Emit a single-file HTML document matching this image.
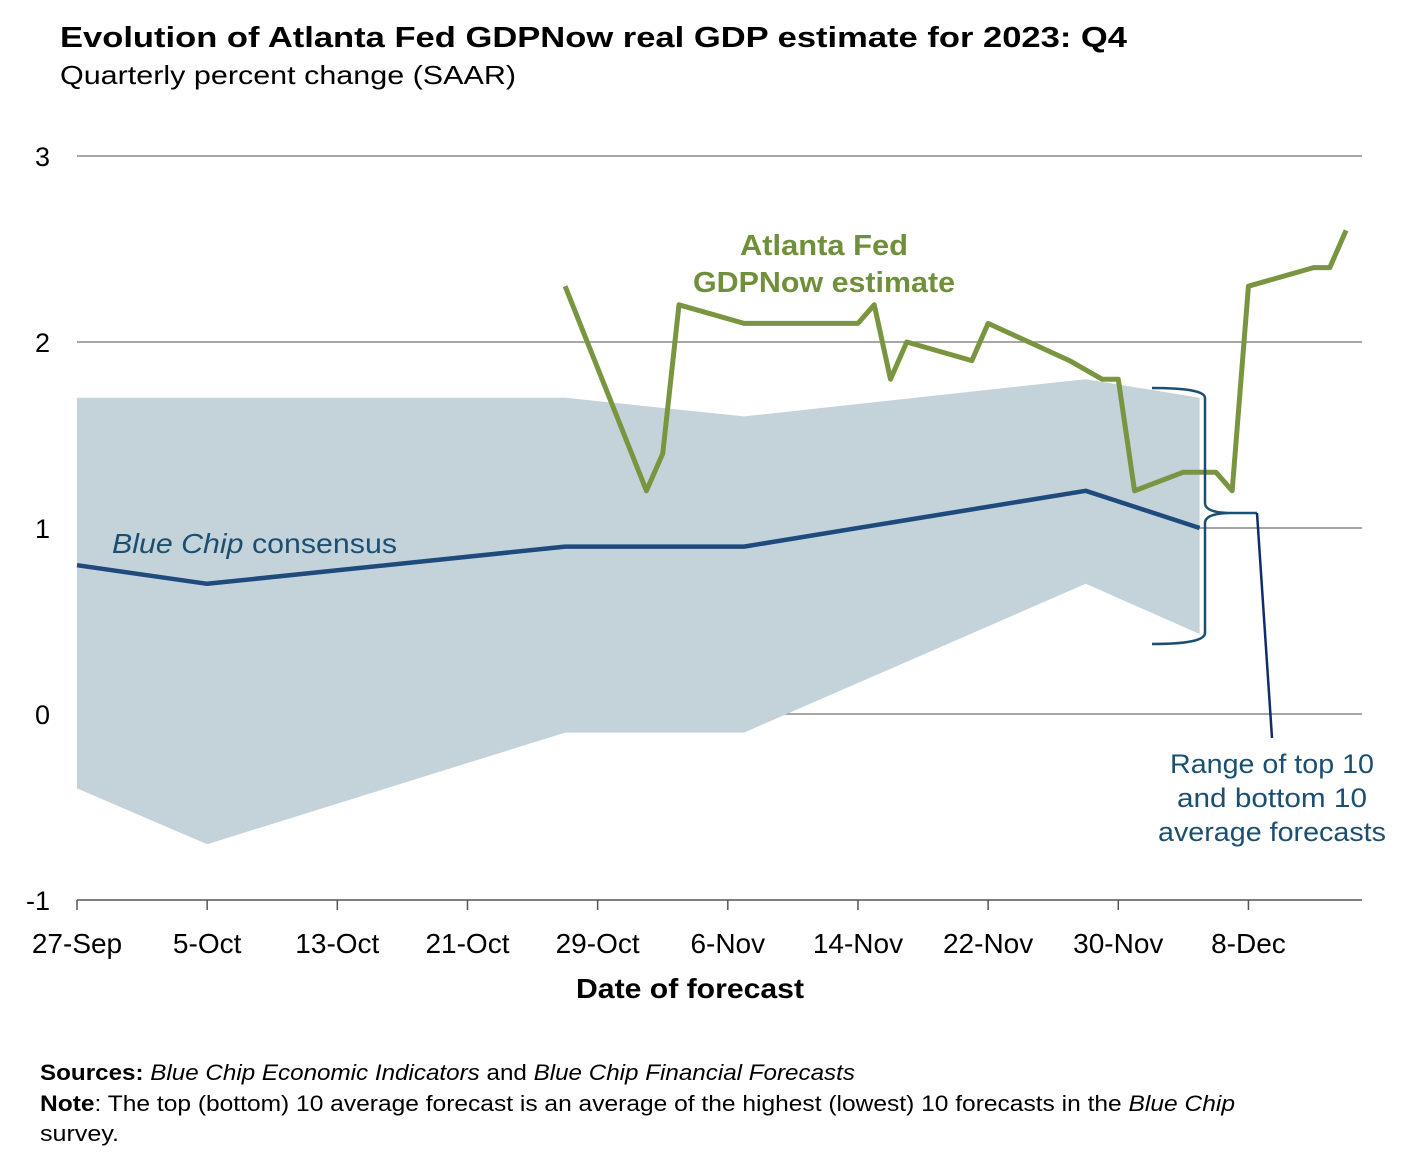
<!DOCTYPE html>
<html><head><meta charset="utf-8"><style>
html,body{margin:0;padding:0;background:#fff;}
svg{display:block;font-family:"Liberation Sans",Arial,sans-serif;}
</style></head><body>
<svg id="chart" width="1420" height="1156" viewBox="0 0 1420 1156" xmlns="http://www.w3.org/2000/svg">
<text x="60" y="47" font-size="29" font-weight="bold" fill="#000" textLength="1067" lengthAdjust="spacingAndGlyphs">Evolution of Atlanta Fed GDPNow real GDP estimate for 2023: Q4</text>
<text x="60" y="84" font-size="26" fill="#000" textLength="456" lengthAdjust="spacingAndGlyphs">Quarterly percent change (SAAR)</text>
<g id="grid"></g>
<g id="band"></g>
<g id="series"></g>
<g id="axes"></g>
<g>
<path d="M1152,388 Q1205,388 1205,398 L1205,503 Q1205,513 1232,513 L1257,513 M1232,513 Q1205,513 1205,523 L1205,633 Q1205,644 1152,644" fill="none" stroke="#1b4f72" stroke-width="2.5"/>
<line x1="1257" y1="513" x2="1272" y2="738" stroke="#0f2d6b" stroke-width="2.5"/>
<text font-size="27" fill="#1b4f72" text-anchor="middle"><tspan x="1272" y="773" textLength="204" lengthAdjust="spacingAndGlyphs">Range of top 10</tspan><tspan x="1272" y="807" textLength="190" lengthAdjust="spacingAndGlyphs">and bottom 10</tspan><tspan x="1272" y="841" textLength="228" lengthAdjust="spacingAndGlyphs">average forecasts</tspan></text>
</g>
<text font-size="29" font-weight="bold" fill="#6f8f3a" text-anchor="middle"><tspan x="824" y="255" textLength="168" lengthAdjust="spacingAndGlyphs">Atlanta Fed</tspan><tspan x="824" y="292" textLength="262" lengthAdjust="spacingAndGlyphs">GDPNow estimate</tspan></text>
<text x="112" y="553" font-size="28" fill="#1b4f72" textLength="285" lengthAdjust="spacingAndGlyphs"><tspan font-style="italic">Blue Chip</tspan> consensus</text>
<text x="690" y="998" font-size="28" font-weight="bold" text-anchor="middle" textLength="228" lengthAdjust="spacingAndGlyphs">Date of forecast</text>
<text x="40" y="1080" font-size="22" textLength="815" lengthAdjust="spacingAndGlyphs"><tspan font-weight="bold">Sources:</tspan> <tspan font-style="italic">Blue Chip Economic Indicators</tspan> and <tspan font-style="italic">Blue Chip Financial Forecasts</tspan></text>
<text x="40" y="1111" font-size="22" textLength="1195" lengthAdjust="spacingAndGlyphs"><tspan font-weight="bold">Note</tspan>: The top (bottom) 10 average forecast is an average of the highest (lowest) 10 forecasts in the <tspan font-style="italic">Blue Chip</tspan></text>
<text x="40" y="1141" font-size="22" textLength="79" lengthAdjust="spacingAndGlyphs">survey.</text>
</svg>
<script>
const xTickLabels=["27-Sep","5-Oct","13-Oct","21-Oct","29-Oct","6-Nov","14-Nov","22-Nov","30-Nov","8-Dec"];
const yTicks=[3,2,1,0,-1];
const bandDays=[0,8,30,41,62,69];
const bandTop=[1.7,1.7,1.7,1.6,1.8,1.7];
const bandBottom=[-0.4,-0.7,-0.1,-0.1,0.7,0.43];
const blueChipDays=[0,8,30,41,62,69];
const blueChip=[0.8,0.7,0.9,0.9,1.2,1.0];
const gdpDays=[30,35,36,37,41,48,49,50,51,55,56,61,63,64,65,68,70,71,72,76,77,78];
const gdpNow=[2.3,1.2,1.4,2.2,2.1,2.1,2.2,1.8,2.0,1.9,2.1,1.9,1.8,1.8,1.2,1.3,1.3,1.2,2.3,2.4,2.4,2.6];

const NS="http://www.w3.org/2000/svg";
const X=d=>77+d*16.27;
const Y=v=>714-v*186;
function mk(tag,attrs,parent){const e=document.createElementNS(NS,tag);for(const k in attrs)e.setAttribute(k,attrs[k]);parent.appendChild(e);return e;}
const grid=document.getElementById('grid'),band=document.getElementById('band'),series=document.getElementById('series'),axes=document.getElementById('axes');
yTicks.forEach(v=>{
  if(v>-1){const l=mk('line',{x1:77,x2:1362,y1:Y(v),y2:Y(v),stroke:'#8a8a8a','stroke-width':1.5},grid);
  
  }
  const t=mk('text',{x:50,y:Y(v)+10,'font-size':27,'text-anchor':'end'},axes);
  t.textContent=v;
  
  
});
let pts=bandDays.map((d,i)=>X(d)+','+Y(bandTop[i])).concat(bandDays.map((d,i)=>X(d)+','+Y(bandBottom[i])).reverse());
const poly=mk('polygon',{points:pts.join(' '),fill:'#c4d3da'},band);


const bc=mk('polyline',{points:blueChipDays.map((d,i)=>X(d)+','+Y(blueChip[i])).join(' '),fill:'none',stroke:'#1f4a7c','stroke-width':4.5,'stroke-linejoin':'round'},series);


const gn=mk('polyline',{points:gdpDays.map((d,i)=>X(d)+','+Y(gdpNow[i])).join(' '),fill:'none',stroke:'#7a953f','stroke-width':5,'stroke-linejoin':'round'},series);


const ax=mk('line',{x1:77,x2:1362,y1:900,y2:900,stroke:'#555','stroke-width':1.5},axes);


xTickLabels.forEach((lab,i)=>{
  const x=X(i*8);
  const tk=mk('line',{x1:x,x2:x,y1:900,y2:910,stroke:'#555','stroke-width':1.5},axes);
  
  
  const t=mk('text',{x:x,y:953,'font-size':28,'text-anchor':'middle'},axes);
  t.textContent=lab;
  
  
});
</script>
</body></html>
